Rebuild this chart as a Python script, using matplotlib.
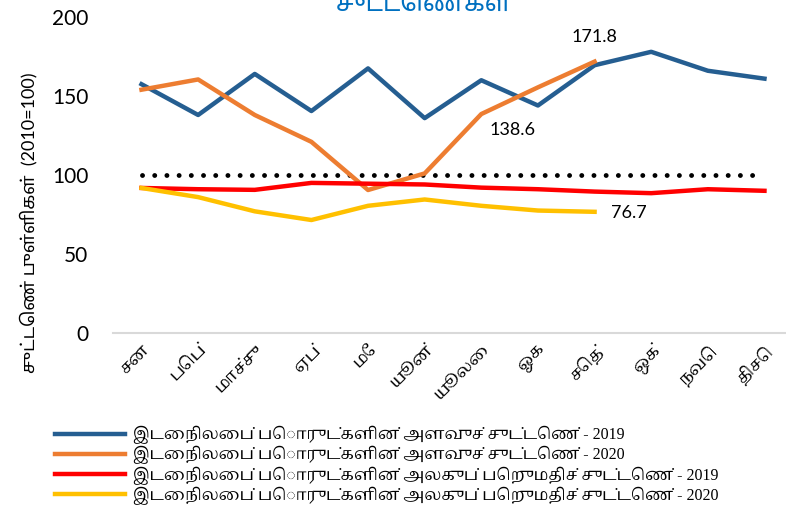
import matplotlib
matplotlib.use("Agg")
import matplotlib.pyplot as plt

months = ["சன", "பெப்", "மாச்சு", "ஏப்", "மே", "யூன்", "யூலை", "ஓக", "செத்", "ஒக்", "நவெ", "திசெ"]
vol_2019 = [157.5, 138, 164, 140.5, 167.5, 136, 160, 144, 169.5, 178, 166, 161]
vol_2020 = [154, 160.5, 138, 121, 90.5, 101, 138.6, 155.5, 171.8]
unit_2019 = [91.8, 91, 90.6, 95, 94.5, 94, 92, 91, 89.5, 88.5, 91, 90]
unit_2020 = [91.8, 86, 77, 71.5, 80.5, 84.5, 80.5, 77.5, 76.7]
base = [100] * 12
labels = [
    "இடைநிலைப் பொருட்களின் அளவுச் சுட்டெண் - 2019",
    "இடைநிலைப் பொருட்களின் அளவுச் சுட்டெண் - 2020",
    "இடைநிலைப் பொருட்களின் அலகுப் பெறுமதிச் சுட்டெண் - 2019",
    "இடைநிலைப் பொருட்களின் அலகுப் பெறுமதிச் சுட்டெண் - 2020",
]
title = "சுட்டெண்கள்"
ylabel = "சுட்டெண் புள்ளிகள்  (2010=100)"

serif_ta = ["Liberation Serif", "Noto Serif Tamil"]
sans_ta = ["Lato", "Noto Sans Tamil"]
num_font = ["Lato", "DejaVu Sans"]

fig = plt.figure(figsize=(7.86, 5.17), dpi=100)
ax = fig.add_axes([0.144, 0.356, 0.856, 0.611])

x = list(range(12))
ax.plot(x, base, color="black", lw=3.5, ls=(0, (0.01, 2.5)), dash_capstyle="round", zorder=1)
ax.plot(x, vol_2019, color="#255E91", lw=3.2, label=labels[0])
ax.plot(x[:len(vol_2020)], vol_2020, color="#ED7D31", lw=3.2, label=labels[1])
ax.plot(x, unit_2019, color="#FF0000", lw=3.2, label=labels[2])
ax.plot(x[:len(unit_2020)], unit_2020, color="#FFC000", lw=3.2, label=labels[3])

ax.annotate(f"{vol_2020[8]}", (8, vol_2020[8]), xytext=(0, 14), textcoords="offset points",
            ha="center", fontsize=13, family=num_font)
ax.annotate(f"{vol_2020[6]}", (6, vol_2020[6]), xytext=(6, -6), textcoords="offset points",
            ha="left", va="top", fontsize=13, family=num_font)
ax.annotate(f"{unit_2020[8]}", (8, unit_2020[8]), xytext=(12, -1), textcoords="offset points",
            ha="left", va="center", fontsize=13, family=num_font)

ax.set_ylim(0, 200)
ax.set_xlim(-0.5, 11.38)
ax.set_yticks([0, 50, 100, 150, 200])
ax.set_xticks(x)
ax.set_xticklabels(months, rotation=45, ha="right", rotation_mode="anchor",
                   family=serif_ta, fontsize=12)
for t in ax.get_yticklabels():
    t.set_family(num_font)
    t.set_fontsize(15)
ax.tick_params(length=0, pad=18)
ax.tick_params(axis="x", pad=6)
for s in ["top", "right", "left"]:
    ax.spines[s].set_visible(False)
ax.spines["bottom"].set_color("#D9D9D9")
ax.spines["bottom"].set_linewidth(1.5)

ax.set_ylabel(ylabel, family=sans_ta, fontsize=13)
ax.yaxis.set_label_coords(-0.112, 0.35)

fig.text(0.54, 0.967, title, color="#0070C0", fontsize=18, fontweight="bold",
         ha="center", va="bottom", family=["Noto Sans Tamil"])

fig.legend(loc="upper left", bbox_to_anchor=(0.062, 0.188), frameon=False,
           prop={"family": serif_ta, "size": 11.5},
           handlelength=4.4, handletextpad=0.5, labelspacing=0.12, borderaxespad=0)

fig.savefig("out.png", dpi=100)
